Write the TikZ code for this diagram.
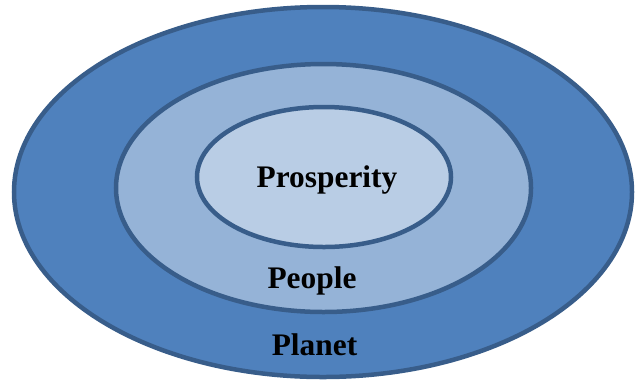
\documentclass[tikz,border=0pt]{standalone}
\usepackage{fontspec}
\setmainfont{Liberation Serif}
\usetikzlibrary{shapes.geometric}
\definecolor{ringline}{HTML}{385D8A}
\definecolor{outerfill}{HTML}{4F81BD}
\definecolor{midfill}{HTML}{95B3D7}
\definecolor{innerfill}{HTML}{B9CDE5}
\tikzset{
  ring/.style={ellipse, draw=ringline, line width=4.5bp, inner sep=0pt},
  lbl/.style={anchor=base, inner sep=0pt, font=\fontsize{31.5}{32}\selectfont\bfseries}
}
\begin{document}
\begin{tikzpicture}[x=1bp,y=-1bp]
\useasboundingbox (0,0) rectangle (636,385);
\node[ring, fill=outerfill, minimum width=618bp, minimum height=370bp] (planet) at (323,192) {};
\node[ring, fill=midfill, minimum width=415bp, minimum height=248bp] (people) at (323.5,188) {};
\node[ring, fill=innerfill, minimum width=254bp, minimum height=140bp] (prosperity) at (324,177) {};
\node[lbl] (tprosp) at (327,187) {Prosperity};
\node[lbl] (tpeople) at (312,288) {People};
\node[lbl] (tplanet) at (314.5,355) {Planet};
\end{tikzpicture}
\end{document}
